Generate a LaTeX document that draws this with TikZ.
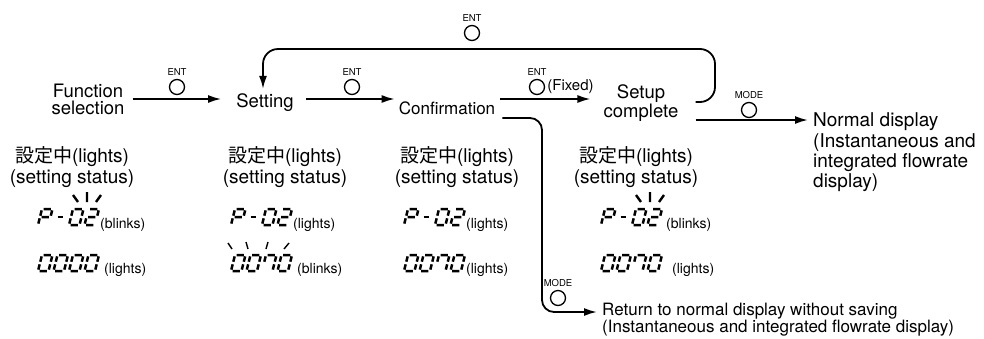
\documentclass[tikz,border=0pt]{standalone}
\usepackage{fontspec}
\setmainfont{TeX Gyre Heros}
\newfontfamily\jpfont{Noto Sans CJK JP}
\usetikzlibrary{arrows.meta,positioning}
\tikzstyle{stage}=[inner sep=0pt,align=center,font=\fontsize{18.5}{17.5}\selectfont]
\tikzstyle{status}=[inner sep=0pt,align=center,font=\fontsize{19}{21}\selectfont]
\tikzstyle{note}=[inner sep=0pt,anchor=west,font=\fontsize{14}{14}\selectfont]
\tikzstyle{button}=[circle,draw,line width=1.3pt,minimum size=15pt,inner sep=0pt]
\tikzstyle{button label}=[inner sep=0pt,font=\fontsize{9.5}{10}\selectfont]
\tikzstyle{flow}=[draw,line width=1.8pt,-{Latex[length=13pt,width=8pt]}]
\tikzstyle{lcd seg}=[line width=2.5pt,xslant=0.25]
\tikzstyle{ray}=[line width=2.4pt]
\tikzstyle{thin ray}=[line width=1.4pt]
\tikzset{
  lcdP/.pic={\draw[lcd seg] (1.6,-8)--(8.9,-8) (10.5,-6.6)--(10.5,-1.3) (0,-6.6)--(0,-1.3) (0,1.3)--(0,6.6) (1.6,0)--(8.9,0);},
  lcdm/.pic={\draw[lcd seg] (2.2,0)--(7.8,0);},
  lcd0/.pic={\draw[lcd seg] (1.6,-8)--(8.9,-8) (10.5,-6.6)--(10.5,-1.3) (10.5,1.3)--(10.5,6.6) (1.6,8)--(8.9,8) (0,1.3)--(0,6.6) (0,-6.6)--(0,-1.3);},
  lcd2/.pic={\draw[lcd seg] (1.6,-8)--(8.9,-8) (10.5,-6.6)--(10.5,-1.3) (1.6,0)--(8.9,0) (0,1.3)--(0,6.6) (1.6,8)--(8.9,8);},
  lcd7/.pic={\draw[lcd seg] (1.6,-8)--(8.9,-8) (10.5,-6.6)--(10.5,-1.3) (10.5,1.3)--(10.5,6.6) (0,-6.6)--(0,-1.3);}
}
\newcommand{\lcd}[3]{\foreach \ch [count=\i from 0] in {#3} \pic at ({#1+15.5*\i},#2) {lcd\ch};}

\begin{document}
\begin{tikzpicture}[x=1pt,y=-1pt]
    \useasboundingbox (0,0) rectangle (984,338);
    % First the stages of the top row
    \node[stage] (func) at (88,99.5) {Function\\selection};
    \node[stage] (setting) at (265,103) {Setting};
    \node[stage,font=\fontsize{17}{18}\selectfont] (confirm) at (447,108) {Confirmation};
    \node[stage] (setup) at (641,103) {Setup\\complete};
    \node[stage,anchor=west,align=left,font=\fontsize{19}{20.3}\selectfont] (normal) at (813,152.5) {Normal display\\(Instantaneous and\\integrated flowrate\\display)};
    \node[stage,anchor=west,align=left,font=\fontsize{17}{16}\selectfont] (back) at (602,320) {Return to normal display without saving\\(Instantaneous and integrated flowrate display)};

    % Keys
    \foreach \pos/\name/\txt in {{(177,87)/entA/ENT}, {(352,87)/entB/ENT}, {(537,87)/entC/ENT}, {(472,33)/entD/ENT}, {(749,110)/modeA/MODE}, {(558,298)/modeB/MODE}}{
        \node[button] (\name) at \pos {};
        \node[button label,above=3pt of \name] (\name-txt) {\txt};
    }
    \node[note,font=\fontsize{15}{15}\selectfont,right=2pt of entC] (fixed) {(Fixed)};

    % Connect the stages
    \coordinate (row) at (0,99);
    \coordinate (moderow) at (0,120);
    \coordinate (looprow) at (0,102);
    \coordinate (loopR) at (715,49);
    \coordinate (branch) at (542,312);
    \draw[flow] ([xshift=8pt]func.east |- row) -- ([xshift=-15pt]setting.west |- row);
    \draw[flow] ([xshift=12pt]setting.east |- row) -- ([xshift=-4pt]confirm.west |- row);
    \draw[flow] ([xshift=5pt]confirm.east |- row) -- ([xshift=-13pt]setup.west |- row);
    \draw[flow] ([xshift=17pt]setup.east |- moderow) -- ([xshift=-5pt]normal.west |- moderow);
    \draw[flow,rounded corners=15pt] ([xshift=17pt]setup.east |- looprow) -| (loopR) -| ([xshift=-2pt,yshift=5pt]setting.north);
    \draw[flow,rounded corners=12pt] ([xshift=7pt,yshift=-10pt]confirm.east) -| (branch) -- ([xshift=-5pt]back.west |- branch);

    % Status under each stage
    \foreach \x/\name in {72/stA, 285/stB, 457/stC, 636/stD}
        \node[status] (\name) at (\x,167.5) {{\jpfont 設定中}(lights)\\(setting status)};

    % Displays
    \lcd{40}{217}{P,m,0,2}
    \lcd{40}{263}{0,0,0,0}
    \lcd{233}{217}{P,m,0,2}
    \lcd{233}{263}{0,0,7,0}
    \lcd{406}{217}{P,m,0,2}
    \lcd{406}{263}{0,0,7,0}
    \lcd{603}{217}{P,m,0,2}
    \lcd{603}{263}{0,0,7,0}
    \node[note] (nA1) at (100,225) {(blinks)};
    \node[note] (nA2) at (104,270) {(lights)};
    \node[note] (nB1) at (293,225) {(lights)};
    \node[note] (nB2) at (297,270) {(blinks)};
    \node[note] (nC1) at (466,225) {(lights)};
    \node[note] (nC2) at (466,270) {(lights)};
    \node[note] (nD1) at (666,225) {(blinks)};
    \node[note] (nD2) at (672,270) {(lights)};

    % Blinking marks
    \draw[ray] (73,195) -- (78,202) (87,192) -- (87,202) (101,195) -- (96,202);
    \draw[ray] (636,195) -- (641,202) (650,192) -- (650,202) (664,195) -- (659,202);
    \draw[thin ray] (228,243) -- (232,249) (246,242) -- (248,249) (268,242) -- (266,249) (289,243) -- (284,249);
\end{tikzpicture}
\end{document}
